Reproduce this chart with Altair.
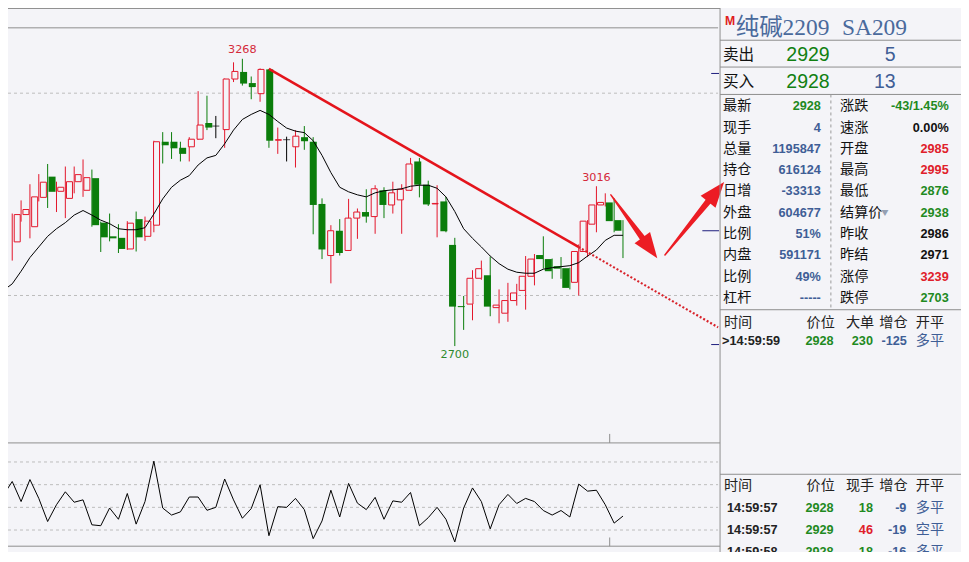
import altair as alt
import pandas as pd
import numpy as np

# ---------------- data ----------------
opens  = [2906, 2960, 2936, 2994, 3035, 3006, 2992, 3025, 3008, 3032,
          2944, 2917, 2914, 2892, 2951, 2917, 2939, 3104, 3104, 3092,
          3094, 3109, 3141, 3135, 3128, 3228, 3242, 3220, 3199, 3247,
          3107, 3108, 3094, 3113, 3104, 2981, 2879, 2928, 2889, 2953,
          2965, 2956, 3008, 2979, 2989, 3008, 3065, 3019, 2981, 2986,
          2900, 2779, 2783, 2834, 2840, 2776, 2765, 2790, 2810, 2838,
          2880, 2872, 2858, 2854, 2826, 2887, 2941, 2979, 2984, 2949]
highs  = [2962, 2988, 3020, 3040, 3060, 3025, 3055, 3055, 3069, 3049,
          2946, 2962, 2941, 2947, 2966, 2956, 3106, 3123, 3123, 3104,
          3113, 3204, 3195, 3155, 3229, 3261, 3268, 3233, 3249, 3248,
          3132, 3114, 3127, 3135, 3113, 2992, 2939, 2951, 2991, 2972,
          3010, 3018, 3014, 3025, 3020, 3072, 3072, 3027, 3018, 2995,
          2914, 2799, 2850, 2869, 2877, 2812, 2825, 2823, 2878, 2882,
          2917, 2873, 2876, 2855, 2901, 2949, 3016, 3002, 2992, 2949]
lows   = [2869, 2946, 2913, 2986, 2973, 2965, 2953, 3002, 2995, 2936,
          2886, 2907, 2884, 2890, 2887, 2908, 2925, 3061, 3070, 3065,
          3065, 3108, 3127, 3111, 3092, 3222, 3215, 3188, 3183, 3092,
          3080, 3065, 3053, 3088, 2921, 2872, 2824, 2879, 2888, 2912,
          2944, 2922, 2953, 2962, 2922, 3007, 2994, 2977, 2915, 2925,
          2700, 2732, 2751, 2831, 2759, 2745, 2748, 2780, 2772, 2820,
          2853, 2833, 2833, 2812, 2800, 2876, 2925, 2976, 2925, 2874]
closes = [2960, 2970, 2995, 3024, 3005, 3014, 3025, 3039, 3033, 2939,
          2915, 2913, 2892, 2943, 2915, 2947, 3104, 3097, 3091, 3080,
          3109, 3137, 3132, 3135, 3228, 3243, 3219, 3212, 3247, 3106,
          3108, 3108, 3115, 3105, 2979, 2891, 2928, 2884, 2953, 2965,
          2956, 3011, 2979, 3003, 3010, 3060, 3019, 2980, 2982, 2927,
          2778, 2777, 2834, 2853, 2778, 2781, 2790, 2805, 2838, 2872,
          2872, 2848, 2853, 2815, 2887, 2947, 2979, 2984, 2947, 2928]

# moving average line, bars 0..70 (bar 0 lies just off the left edge)
ma_values = [2810,
             2823, 2848, 2875, 2896, 2917, 2932, 2944, 2959, 2968, 2959,
             2949, 2942, 2932, 2930, 2930, 2934, 2961, 2991, 3014, 3028,
             3037, 3058, 3072, 3077, 3100, 3127, 3148, 3158, 3166, 3158,
             3144, 3131, 3125, 3122, 3106, 3077, 3043, 3014, 3005, 2999,
             2995, 3003, 3007, 3009, 3011, 3016, 3018, 3018, 3012, 2995,
             2966, 2932, 2913, 2896, 2878, 2863, 2852, 2846, 2844, 2844,
             2852, 2855, 2857, 2859, 2865, 2878, 2890, 2909, 2919, 2919]

# lower-panel oscillator, bars 0..70
osc_values = [50.8,
              62.8, 45.1, 64.5, 47.9, 27.5, 42.3, 53.7, 44.5, 46.6, 24.6,
              23.8, 39.4, 29.5, 52.2, 25.2, 45.1, 80.7, 39.4, 33.2, 36.0,
              49.1, 49.1, 37.4, 40.0, 65.0, 46.6, 30.4, 38.9, 59.9, 15.0,
              40.6, 40.0, 47.9, 38.0, 12.4, 28.0, 55.1, 31.5, 61.1, 43.7,
              38.0, 48.8, 29.5, 45.7, 44.5, 53.1, 23.8, 30.9, 40.0, 29.5,
              9.5, 39.4, 57.1, 45.1, 21.0, 42.3, 51.4, 43.4, 47.9, 45.1,
              37.2, 33.2, 37.2, 31.5, 60.5, 54.3, 55.1, 42.3, 26.1, 32.3]

price_grid = [2800, 3200]
osc_grid = [20, 40, 60, 80]

peak_bar = [27, 67, 51]
peak_price = [3268, 3016, 2700]
peak_text = ["3268", "3016", "2700"]
peak_kind = ["high", "high", "low"]

trend_bar = [30, 64.97, 80.74]
trend_price = [3248, 2896, 2737]

# hand-drawn arrows (bar position, price)
arrow_id = [1, 1, 2, 2]
arrow_bar = [68.63, 73.03, 74.74, 80.52]
arrow_price = [2999, 2894, 2880, 3005]
head_bar = [73.03, 80.52]
head_price = [2894, 3005]
head_angle = [144, 39]

last_price = [2928]
limit_prices = [3239, 2703]
day_break = [68.5]

title_cn = "纯碱2209"
title_code = "SA209"
book_labels = ["卖出", "买入"]
book_prices = ["2929", "2928"]
book_vols = ["5", "13"]

info_left_labels = ["最新", "现手", "总量", "持仓", "日增", "外盘", "比例", "内盘", "比例", "杠杆"]
info_left_values = ["2928", "4", "1195847", "616124", "-33313", "604677", "51%", "591171", "49%", "-----"]
info_left_tone = ["down", "info", "info", "info", "info", "info", "info", "info", "info", "info"]
info_right_labels = ["涨跌", "速涨", "开盘", "最高", "最低", "结算价", "昨收", "昨结", "涨停", "跌停"]
info_right_values = ["-43/1.45%", "0.00%", "2985", "2995", "2876", "2938", "2986", "2971", "3239", "2703"]
info_right_tone = ["down", "flat", "up", "up", "down", "down", "flat", "flat", "up", "down"]

big_header = ["时间", "价位", "大单", "增仓", "开平"]
big_time = [">14:59:59"]
big_price = ["2928"]
big_size = ["230"]
big_oi = ["-125"]
big_type = ["多平"]

tick_header = ["时间", "价位", "现手", "增仓", "开平"]
tick_time = ["14:59:57", "14:59:57", "14:59:58"]
tick_price = ["2928", "2929", "2928"]
tick_vol = ["18", "46", "18"]
tick_vol_tone = ["down", "up", "down"]
tick_oi = ["-9", "-19", "-16"]
tick_type = ["多平", "空平", "多平"]

# ---------------- layout / style ----------------
W, H = 953, 544
SX, SY = W / 969.0, H / 562.0
FS = (SX + SY) / 2.0


def X(p):
    return round(p * SX, 2)


def Y(p):
    return round(p * SY, 2)


BG = "#F4F4F8"
RED = "#E3172C"
GREEN = "#0B7D0B"
FRAME = "#8E8E8E"
GRID = "#BDBDBD"
T_RED = "#E0202A"
T_GREEN = "#1F8A1F"
T_BLUE = "#3F5E96"
T_BLACK = "#111111"
NAVY = "#1E1E7E"
ARROW = "#EC1C24"
CJK = "Noto Sans CJK SC"
SANS = "Liberation Sans"

xs = alt.Scale(domain=[1, 70], range=[X(4.3), X(625.3)], nice=False, zero=False)
ps = alt.Scale(domain=[2800, 3200], range=[Y(297), Y(88)], nice=False, zero=False)
oscs = alt.Scale(domain=[20, 80], range=[Y(539.3), Y(469)], nice=False, zero=False)
tone_scale = alt.Scale(domain=["up", "down", "flat", "info"], range=[T_RED, T_GREEN, T_BLACK, T_BLUE])

dummy = pd.DataFrame({"d": [0]})
layers = []


def hline(y, x1, x2, color=FRAME, width=1, dash=None):
    kw = dict(color=color, strokeWidth=width)
    if dash:
        kw["strokeDash"] = dash
    return alt.Chart(dummy).mark_rule(**kw).encode(
        x=alt.value(X(x1)), x2=alt.value(X(x2)), y=alt.value(Y(y)))


def vline(x, y1, y2, color=FRAME, width=1, dash=None):
    kw = dict(color=color, strokeWidth=width)
    if dash:
        kw["strokeDash"] = dash
    return alt.Chart(dummy).mark_rule(**kw).encode(
        x=alt.value(X(x)), y=alt.value(Y(y1)), y2=alt.value(Y(y2)))


def column(texts, yscale, x, start=0, align="left", font=CJK, size=14.0,
           weight="normal", color=T_BLACK, tones=None, baseline="middle"):
    d = pd.DataFrame({"row": [start + i for i in range(len(texts))], "t": texts})
    kw = dict(align=align, baseline=baseline, font=font, fontSize=size * FS, fontWeight=weight)
    enc = dict(x=alt.value(X(x)), y=alt.Y("row:Q", scale=yscale, axis=None), text="t:N")
    if tones is not None:
        d["tone"] = tones
        enc["color"] = alt.Color("tone:N", scale=tone_scale, legend=None)
    else:
        kw["color"] = color
    return alt.Chart(d).mark_text(**kw).encode(**enc)


# ---------- grid ----------
layers.append(alt.Chart(pd.DataFrame({"p": price_grid})).mark_rule(
    color=GRID, strokeDash=[3, 3], strokeWidth=1).encode(
    y=alt.Y("p:Q", scale=ps, axis=None), x=alt.value(0), x2=alt.value(X(722))))
layers.append(alt.Chart(pd.DataFrame({"v": osc_grid})).mark_rule(
    color=GRID, strokeDash=[3, 3], strokeWidth=1).encode(
    y=alt.Y("v:Q", scale=oscs, axis=None), x=alt.value(0), x2=alt.value(X(722))))

# ---------- candles ----------
cdf = pd.DataFrame({"idx": np.arange(1, 71), "open": opens, "high": highs,
                    "low": lows, "close": closes})
cdf["dir"] = np.select([cdf.close > cdf.open, cdf.close < cdf.open], ["up", "down"], "flat")
xenc = alt.X("idx:Q", scale=xs, axis=None)
dir_scale = alt.Scale(domain=["up", "down", "flat"], range=[RED, GREEN, "#000000"])

layers.append(alt.Chart(cdf).mark_rule(strokeWidth=1).encode(
    x=xenc, y=alt.Y("low:Q", scale=ps, axis=None), y2="high:Q",
    color=alt.Color("dir:N", scale=dir_scale, legend=None)))
layers.append(alt.Chart(cdf).transform_filter("datum.dir == 'up'").mark_bar(
    size=6, fill=BG, stroke=RED, strokeWidth=1).encode(
    x=xenc, y=alt.Y("open:Q", scale=ps, axis=None), y2="close:Q"))
layers.append(alt.Chart(cdf).transform_filter("datum.dir == 'down'").mark_bar(
    size=7, color=GREEN).encode(
    x=xenc, y=alt.Y("open:Q", scale=ps, axis=None), y2="close:Q"))
layers.append(alt.Chart(cdf).transform_filter("datum.dir == 'flat'").mark_tick(
    orient="horizontal", size=7, thickness=1, color="#000000").encode(
    x=xenc, y=alt.Y("open:Q", scale=ps, axis=None)))

# ---------- moving average ----------
madf = pd.DataFrame({"idx": np.arange(0, 71), "ma": ma_values})
layers.append(alt.Chart(madf).mark_line(color="#000000", strokeWidth=1, clip=True).encode(
    x=xenc, y=alt.Y("ma:Q", scale=ps, axis=None)))

# ---------- trend line ----------
layers.append(alt.Chart(pd.DataFrame({"idx": trend_bar[:2], "p": trend_price[:2]})).mark_line(
    color="#E4141C", strokeWidth=2.5).encode(x=xenc, y=alt.Y("p:Q", scale=ps, axis=None)))
layers.append(alt.Chart(pd.DataFrame({"idx": trend_bar[1:], "p": trend_price[1:]})).mark_line(
    color="#D8222A", strokeWidth=2.2, strokeDash=[2, 2]).encode(
    x=xenc, y=alt.Y("p:Q", scale=ps, axis=None)))

# ---------- peak labels ----------
pk = pd.DataFrame({"idx": peak_bar, "p": peak_price, "t": peak_text, "kind": peak_kind})
layers.append(alt.Chart(pk).transform_filter("datum.kind == 'high'").mark_text(
    dy=-8.5, baseline="middle", align="center", font="DejaVu Sans", fontSize=11.5 * FS,
    color="#D42A3A").encode(x=xenc, y=alt.Y("p:Q", scale=ps, axis=None), text="t:N"))
layers.append(alt.Chart(pk).transform_filter("datum.kind == 'low'").mark_text(
    dy=8.5, baseline="middle", align="center", font="DejaVu Sans", fontSize=11.5 * FS,
    color="#2D8A2D").encode(x=xenc, y=alt.Y("p:Q", scale=ps, axis=None), text="t:N"))

# ---------- price markers at right edge ----------
layers.append(alt.Chart(pd.DataFrame({"p": last_price})).mark_rule(color=NAVY, strokeWidth=1).encode(
    y=alt.Y("p:Q", scale=ps, axis=None), x=alt.value(X(706)), x2=alt.value(X(723))))
layers.append(alt.Chart(pd.DataFrame({"p": limit_prices})).mark_rule(color=NAVY, strokeWidth=1).encode(
    y=alt.Y("p:Q", scale=ps, axis=None), x=alt.value(X(715)), x2=alt.value(X(723))))

# ---------- arrows ----------
adf = pd.DataFrame({"arrow": arrow_id, "idx": arrow_bar, "p": arrow_price})
adf["w"] = [1.5, 7.0] * 2
layers.append(alt.Chart(adf).mark_trail(color=ARROW).encode(
    x=xenc, y=alt.Y("p:Q", scale=ps, axis=None),
    size=alt.Size("w:Q", scale=None, legend=None), detail="arrow:N"))
hdf = pd.DataFrame({"idx": head_bar, "p": head_price, "ang": head_angle})
layers.append(alt.Chart(hdf).mark_point(
    shape="M0,-1L0.75,1L-0.75,1Z", filled=True, size=650, color=ARROW, opacity=1).encode(
    x=xenc, y=alt.Y("p:Q", scale=ps, axis=None), angle=alt.Angle("ang:Q", scale=None)))

# ---------- oscillator ----------
odf = pd.DataFrame({"idx": np.arange(0, 71), "v": osc_values})
layers.append(alt.Chart(odf).mark_line(color="#000000", strokeWidth=1, clip=True).encode(
    x=xenc, y=alt.Y("v:Q", scale=oscs, axis=None)))

# day separator ticks
for y1, y2 in [(440, 449.3), (547, 556)]:
    layers.append(alt.Chart(pd.DataFrame({"idx": day_break})).mark_rule(color=FRAME, strokeWidth=1).encode(
        x=xenc, y=alt.value(Y(y1)), y2=alt.value(Y(y2))))

# ---------- frame lines ----------
layers += [
    hline(0.5, 0, 724), hline(20.5, 0, 722), hline(449.3, 0, 724), hline(556, 0, 724),
    vline(724, 0, 562),
    hline(33.3, 724, 969), hline(61, 724, 969), hline(89.3, 724, 969),
    hline(311.7, 724, 969), hline(481.7, 724, 969),
    vline(836.7, 89.3, 311.7, color="#9A9A9A", dash=[3, 3]),
]

# ---------- right panel ----------
title_scale = alt.Scale(domain=[0, 1], range=[Y(17.5), Y(27.5)])
layers.append(column(["M"], title_scale, 729, align="left", font=SANS, size=12.5,
                     weight="bold", color="#E01E1E", baseline="alphabetic"))
layers.append(column([title_cn], title_scale, 740, start=1, align="left",
                     font="Liberation Serif, Noto Sans CJK SC", size=24, color="#4A6A9C",
                     baseline="alphabetic"))
layers.append(column([title_code], title_scale, 848, start=1, align="left",
                     font="Liberation Serif, Noto Sans CJK SC", size=24, color="#4A6A9C",
                     baseline="alphabetic"))

book_scale = alt.Scale(domain=[0, 1], range=[Y(48.5), Y(76.5)])
layers.append(column(book_labels, book_scale, 727, size=16))
layers.append(column(book_prices, book_scale, 835.5, align="right", font=SANS, size=20, color="#118011"))
layers.append(column(book_vols, book_scale, 902.5, align="right", font=SANS, size=20, color=T_BLUE))

info_scale = alt.Scale(domain=[0, 9], range=[Y(101.5), Y(299.5)])
layers.append(column(info_left_labels, info_scale, 727, size=14.5))
layers.append(column(info_left_values, info_scale, 826.5, align="right", font=SANS, size=13,
                     weight="bold", tones=info_left_tone))
layers.append(column(info_right_labels, info_scale, 846, size=14.5))
layers.append(column(info_right_values, info_scale, 956.5, align="right", font=SANS, size=13,
                     weight="bold", tones=info_right_tone))
layers.append(column(["▼"], info_scale, 888, start=5, size=7.5, color="#95A0B3"))

big_scale = alt.Scale(domain=[0, 1], range=[Y(325), Y(344.5)])
for txt, xx in zip(big_header, [728, 812, 852, 886, 923]):
    layers.append(column([txt], big_scale, xx, size=14.5, color="#222222"))
layers.append(column(big_time, big_scale, 726, start=1, font=SANS, size=13, weight="bold", color="#222222"))
layers.append(column(big_price, big_scale, 839.5, start=1, align="right", font=SANS, size=13,
                     weight="bold", color=T_GREEN))
layers.append(column(big_size, big_scale, 879.5, start=1, align="right", font=SANS, size=13,
                     weight="bold", color=T_GREEN))
layers.append(column(big_oi, big_scale, 914, start=1, align="right", font=SANS, size=13,
                     weight="bold", color=T_BLUE))
layers.append(column(big_type, big_scale, 923, start=1, size=14.5, color=T_BLUE))

tick_scale = alt.Scale(domain=[0, 3], range=[Y(493.3), Y(562)])
for txt, xx in zip(tick_header, [728, 812, 852, 886, 923]):
    layers.append(column([txt], tick_scale, xx, size=14.5, color="#222222"))
layers.append(column(tick_time, tick_scale, 731, start=1, font=SANS, size=13, weight="bold", color="#222222"))
layers.append(column(tick_price, tick_scale, 839.5, start=1, align="right", font=SANS, size=13,
                     weight="bold", color=T_GREEN))
layers.append(column(tick_vol, tick_scale, 879.5, start=1, align="right", font=SANS, size=13,
                     weight="bold", tones=tick_vol_tone))
layers.append(column(tick_oi, tick_scale, 913.5, start=1, align="right", font=SANS, size=13,
                     weight="bold", color=T_BLUE))
layers.append(column(tick_type, tick_scale, 923, start=1, size=14.5, color=T_BLUE))

chart = alt.layer(*layers).resolve_scale(
    x="independent", y="independent", color="independent", size="independent"
).properties(
    width=W, height=H, padding=0, autosize=alt.AutoSizeParams(type="none")
).configure(background=BG).configure_view(stroke=None)

chart.save("out.html", embed_options={"renderer": "svg", "actions": False})
